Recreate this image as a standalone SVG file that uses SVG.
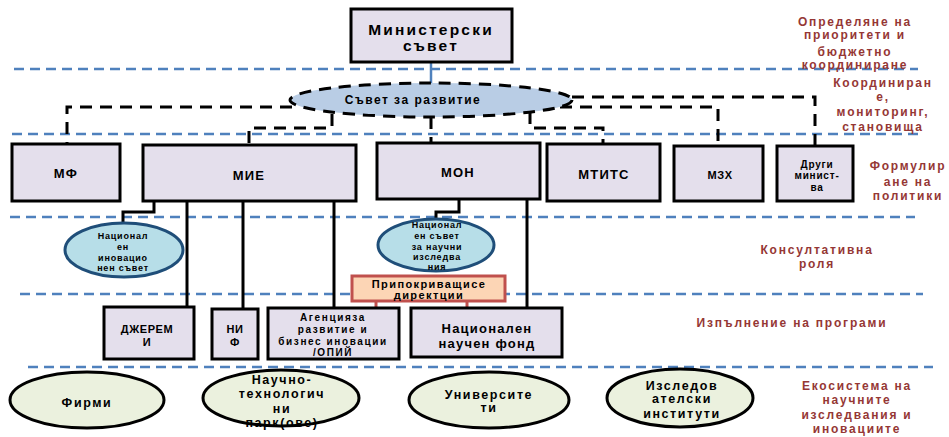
<svg xmlns="http://www.w3.org/2000/svg" width="949" height="437" viewBox="0 0 949 437">
<style>
text{font-family:"Liberation Sans",Arial,sans-serif;font-weight:bold;text-anchor:middle;fill:#000}
.box{fill:#E4DFEC;stroke:#000;stroke-width:3}
.cons{fill:#B7DEE8;stroke:#1F4E79;stroke-width:3}
.eco{fill:#EBF1DE;stroke:#000;stroke-width:3}
.sep{stroke:#4F81BD;stroke-width:2.5;stroke-dasharray:10 6;fill:none}
.dash{stroke:#000;stroke-width:3;stroke-dasharray:12 8;fill:none}
.solid{stroke:#000;stroke-width:3;fill:none}
.red{stroke:#C0504D;stroke-width:3;fill:none}
.lbl{fill:#953735;font-size:12px;letter-spacing:1.8px}
.s9{font-size:9px;letter-spacing:0.8px}
.s10{font-size:10px;letter-spacing:0.8px}
.ag{font-size:10px;letter-spacing:1.6px}
.s11{font-size:11px;letter-spacing:0.6px}
.s12{font-size:12.5px;letter-spacing:1.6px}
.s13{font-size:13px;letter-spacing:1.2px}
</style>
<rect width="949" height="437" fill="#fff"/>
<g id="separators">
<line class="sep" x1="14" y1="69" x2="918" y2="69"/>
<line class="sep" x1="12" y1="134" x2="918" y2="134"/>
<line class="sep" x1="10" y1="217" x2="915" y2="217"/>
<line class="sep" x1="20" y1="294" x2="923" y2="294"/>
<line class="sep" x1="28" y1="367" x2="933" y2="367"/>
</g>
<g id="connectors">
<line x1="431" y1="62" x2="431" y2="83" stroke="#4F81BD" stroke-width="2.5"/>
<path class="dash" d="M292,107 H67 V144"/>
<path class="dash" d="M332,114 V128 H249 V145"/>
<path class="dash" d="M431,117 V143"/>
<path class="dash" d="M530,112 V128 H603 V144"/>
<path class="dash" d="M560,107 H718 V146"/>
<path class="dash" d="M572,97 H815 V146"/>
<path class="solid" d="M154,201 V212 H123 V223"/>
<path class="solid" d="M459,199 V212 H436 V219"/>
<line class="solid" x1="187" y1="201" x2="187" y2="307"/>
<line class="solid" x1="243" y1="201" x2="243" y2="309"/>
<line class="solid" x1="334" y1="201" x2="334" y2="308"/>
<line class="solid" x1="527" y1="199" x2="527" y2="308"/>
<line class="red" x1="376" y1="301" x2="376" y2="308"/>
<line class="red" x1="467" y1="301" x2="467" y2="308"/>
</g>
<g id="ministerski">
<rect class="box" x="351" y="9" width="161" height="53"/>
<text x="431" y="35" font-size="15.5" letter-spacing="2.2">Министерски</text>
<text x="431" y="51" font-size="15.5" letter-spacing="2.2">съвет</text>
</g>
<g id="savet-razvitie">
<ellipse cx="431" cy="100" rx="141" ry="17" fill="#B9CDE5" stroke="#000" stroke-width="3" stroke-dasharray="12 8"/>
<text x="413" y="104" font-size="12" letter-spacing="1.5">Съвет  за развитие</text>
</g>
<g id="mf"><rect class="box" x="12" y="144" width="108" height="57"/><text class="s13" x="66" y="178">МФ</text></g>
<g id="mie"><rect class="box" x="143" y="145" width="213" height="56"/><text class="s13" x="249" y="180">МИЕ</text></g>
<g id="mon"><rect class="box" x="377" y="143" width="163" height="56"/><text class="s13" x="458" y="177">МОН</text></g>
<g id="mtits"><rect class="box" x="547" y="144" width="113" height="57"/><text class="s13" x="604" y="179">МТИТС</text></g>
<g id="mzh"><rect class="box" x="674" y="146" width="89" height="55"/><text class="s11" x="720" y="179">МЗХ</text></g>
<g id="drugi"><rect class="box" x="777" y="146" width="76" height="55"/>
<text class="s10" x="817" y="168">Други</text><text class="s10" x="817" y="179">минист-</text><text class="s10" x="817" y="191">ва</text></g>
<g id="nis">
<ellipse class="cons" cx="124" cy="250" rx="59" ry="27"/>
<text class="s9" x="123" y="239">Национал</text><text class="s9" x="123" y="250">ен</text><text class="s9" x="123" y="261">иновацио</text><text class="s9" x="123" y="271">нен  съвет</text>
</g>
<g id="nsni">
<ellipse class="cons" cx="436" cy="245" rx="58" ry="26"/>
<text class="s9" x="437" y="228">Национал</text><text class="s9" x="437" y="239">ен  съвет</text><text class="s9" x="437" y="250">за научни</text><text class="s9" x="437" y="260">изследва</text><text class="s9" x="437" y="270">ния</text>
</g>
<g id="pripokrivashti">
<rect x="352" y="276" width="153" height="25" fill="#FCD5B5" stroke="#C0504D" stroke-width="3"/>
<text x="429" y="288" font-size="11" font-weight="normal" letter-spacing="1.4">Припокриващисе</text>
<text x="429" y="299" font-size="11" font-weight="normal" letter-spacing="1.4">директции</text>
</g>
<g id="djeremi"><rect class="box" x="104" y="307" width="90" height="52"/><text class="s11" x="147" y="333">ДЖЕРЕМ</text><text class="s11" x="147" y="346">И</text></g>
<g id="nif"><rect class="box" x="212" y="309" width="46" height="50"/><text class="s11" x="235" y="333">НИ</text><text class="s11" x="235" y="346">Ф</text></g>
<g id="agencia"><rect class="box" x="268" y="308" width="131" height="51"/>
<text class="ag" x="333" y="321">Агенцияза</text><text class="ag" x="333" y="333">развитие и</text><text class="ag" x="333" y="345">бизнес иновации</text><text class="ag" x="333" y="356">/ОПИЙ</text></g>
<g id="nnf"><rect class="box" x="411" y="308" width="151" height="49"/>
<text class="s13" x="487" y="333">Национален</text><text class="s13" x="487" y="348">научен  фонд</text></g>
<g id="firmi"><ellipse class="eco" cx="87" cy="400" rx="77" ry="28"/><text class="s12" x="87" y="407">Фирми</text></g>
<g id="parkove"><ellipse class="eco" cx="281" cy="398" rx="78" ry="28"/>
<text class="s12" x="282" y="384">Научно-</text><text class="s12" x="282" y="398">технологич</text><text class="s12" x="282" y="413">ни</text><text class="s12" x="282" y="427">парк(ове)</text></g>
<g id="universiteti"><ellipse class="eco" cx="489" cy="400" rx="80" ry="28"/>
<text class="s12" x="489" y="399">Университе</text><text class="s12" x="489" y="412">ти</text></g>
<g id="instituti"><ellipse class="eco" cx="680" cy="398" rx="73" ry="29"/>
<text class="s12" x="682" y="390">Изследов</text><text class="s12" x="682" y="403">ателски</text><text class="s12" x="682" y="418">институти</text></g>
<g id="labels">
<text class="lbl" x="855" y="26">Определяне   на</text>
<text class="lbl" x="855" y="39">приоритети    и</text>
<text class="lbl" x="855" y="56">бюджетно</text>
<text class="lbl" x="855" y="69">координиране</text>
<text class="lbl" x="883" y="87">Координиран</text>
<text class="lbl" x="883" y="101">е,</text>
<text class="lbl" x="883" y="116">мониторинг,</text>
<text class="lbl" x="883" y="131">становища</text>
<text class="lbl" x="908" y="170">Формулир</text>
<text class="lbl" x="908" y="186">ане  на</text>
<text class="lbl" x="908" y="200">политики</text>
<text class="lbl" x="817" y="254">Консултативна</text>
<text class="lbl" x="817" y="268">роля</text>
<text class="lbl" x="792" y="327">Изпълнение    на програми</text>
<text class="lbl" x="857" y="390">Екосистема  на</text>
<text class="lbl" x="857" y="404">научните</text>
<text class="lbl" x="857" y="419">изследвания  и</text>
<text class="lbl" x="857" y="433">иновациите</text>
</g>
</svg>
